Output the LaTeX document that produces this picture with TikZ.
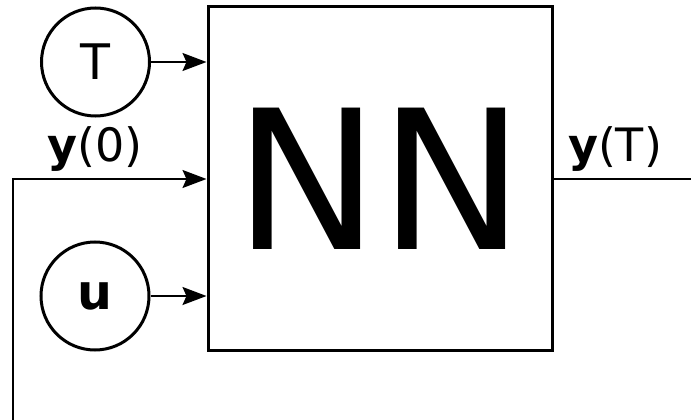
\documentclass[tikz,border=0pt]{standalone}
\usepackage{fontspec}
\setmainfont{DejaVu Sans}
\usetikzlibrary{arrows.meta}
\tikzset{
  thick line/.style={line width=3pt},
  signal/.style={line width=2pt},
  feed/.style={signal, -{Stealth[length=24pt,width=18pt,inset=4pt]}},
  inbox/.style={circle, thick line, draw, minimum size=108pt, inner sep=0pt, font=\fontsize{49}{49}\selectfont},
  label/.style={anchor=base, inner sep=0pt, font=\fontsize{46}{46}\selectfont}
}
\begin{document}
\begin{tikzpicture}[x=1pt, y=-1pt]
  \useasboundingbox (0,0) rectangle (691,420);
  % network block
  \node[draw, thick line, minimum width=344pt, minimum height=343pt, inner sep=0pt,
        font=\fontsize{194}{194}\selectfont] (nn) at (380,178.5) {NN};
  % inputs
  \node[inbox] (t) at (95.5,62) {T};
  \node[inbox] (u) at (95,296) {\textbf{u}};
  \draw[feed] (t.east) -- (t.east -| nn.west);
  \draw[feed] (u.east) -- (u.east -| nn.west);
  % initial state enters from below
  \coordinate (start) at (13,420);
  \coordinate (corner) at (13,179);
  \draw[feed] (start) -- (corner) -- (corner -| nn.west);
  \node[label] (y0) at (95,161) {\textbf{y}(0)};
  % output
  \coordinate (out) at (691,179);
  \draw[signal] (out -| nn.east) -- (out);
  \node[label] (yT) at (615,161) {\textbf{y}(T)};
\end{tikzpicture}
\end{document}
